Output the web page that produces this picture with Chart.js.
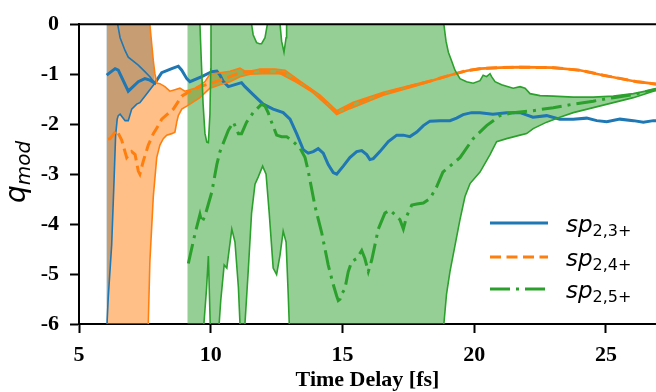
<!DOCTYPE html>
<html>
<head>
<meta charset="utf-8">
<script src="https://cdn.jsdelivr.net/npm/chart.js@4.4.1/dist/chart.umd.min.js"></script>
<style>
html, body { margin: 0; padding: 0; background: #fff; overflow: hidden; }
</style>
</head>
<body>
<canvas id="chart1" width="656" height="392"></canvas>
<script>
// tick labels
const xTicks = [5, 10, 15, 20, 25];
const yTicks = [-6, -5, -4, -3, -2, -1, 0];

// sp_{2,3+}  [time delay (fs), q_mod]
const blueMean = [[6.05,-1.02],[6.37,-0.89],[6.49,-0.92],[6.87,-1.34],[7.25,-1.15],[7.50,-1.09],[7.69,-1.12],[7.88,-1.18],
  [8.14,-0.97],[8.52,-0.89],[8.77,-0.84],[8.90,-0.92],[9.09,-1.09],[9.21,-1.15],[9.66,-1.05],[10.04,-0.95],[10.23,-0.94],
  [10.35,-1.02],[10.48,-1.15],[10.67,-1.25],[10.92,-1.21],[11.17,-1.17],[11.30,-1.25],[11.61,-1.41],[11.99,-1.60],[12.37,-1.70],
  [12.75,-1.77],[13.01,-1.90],[13.26,-2.19],[13.51,-2.51],[13.70,-2.58],[13.89,-2.55],[14.08,-2.49],[14.27,-2.58],[14.46,-2.81],
  [14.65,-2.97],[14.78,-3.00],[15.03,-2.84],[15.28,-2.67],[15.54,-2.55],[15.73,-2.53],[15.92,-2.61],[16.04,-2.71],[16.17,-2.69],
  [16.42,-2.55],[16.74,-2.35],[17.06,-2.22],[17.31,-2.22],[17.56,-2.25],[17.82,-2.16],[18.07,-2.03],[18.32,-1.94],[18.70,-1.93],
  [19.08,-1.93],[19.33,-1.88],[19.58,-1.81],[19.90,-1.77],[20.22,-1.77],[20.71,-1.80],[21.23,-1.77],[21.74,-1.77],[22.23,-1.86],
  [22.75,-1.83],[23.25,-1.90],[23.76,-1.90],[24.27,-1.88],[24.65,-1.93],[25.03,-1.95],[25.53,-1.90],[26.04,-1.93],[26.42,-1.96],
  [26.80,-1.93],[27.05,-1.93]];
const blueHigh = [[6.05,2.0],[6.46,0.02],[6.47,-0.01],[6.56,-0.27],[6.75,-0.53],[6.87,-0.66],[7.25,-0.82],[7.50,-0.95],[7.69,-1.05],[7.88,-1.18]];
const blueLow = [[6.04,-6.5],[6.07,-5.92],[6.11,-5.47],[6.24,-4.42],[6.33,-3.13],[6.39,-2.22],[6.45,-1.90],[6.49,-1.83],[6.56,-1.80],
  [6.75,-1.93],[6.87,-1.93],[7.00,-1.70],[7.19,-1.60],[7.31,-1.57],[7.50,-1.44],[7.69,-1.31],[7.88,-1.18]];
const blueTop = [[6.04,2.0],[7.60,2.0],[7.69,-0.01],[7.76,-0.40],[7.82,-0.73],[7.86,-0.95],[7.88,-1.18]];

// sp_{2,4+}
const orangeMean = [[6.10,-2.30],[6.18,-2.29],[6.43,-2.12],[6.62,-2.32],[6.81,-2.67],[7.00,-2.55],[7.13,-2.61],[7.25,-2.94],[7.31,-3.00],
  [7.44,-2.74],[7.63,-2.42],[7.82,-2.19],[8.01,-2.03],[8.14,-1.90],[8.58,-1.70],[8.90,-1.44],[9.21,-1.34],[9.59,-1.25],[10.09,-1.17],
  [10.62,-1.07],[11.11,-0.97],[11.68,-0.94],[12.25,-0.94],[12.82,-0.99],[13.39,-1.18],[13.77,-1.30],[14.15,-1.46],[14.53,-1.64],
  [14.78,-1.77],[15.03,-1.70],[15.41,-1.60],[15.92,-1.50],[16.55,-1.39],[17.18,-1.30],[17.82,-1.21],[18.45,-1.12],[19.08,-1.02],
  [19.72,-0.93],[20.22,-0.89],[20.98,-0.87],[21.74,-0.86],[22.99,-0.87],[24.01,-0.92],[24.89,-1.02],[26.17,-1.15],[26.78,-1.19],[27.05,-1.21]];
const orangeHigh = [[6.05,2.0],[7.68,0.02],[7.69,-0.01],[7.76,-0.40],[7.82,-0.73],[7.88,-0.99],[7.95,-1.18],[8.07,-1.19],[8.26,-1.25],
  [8.45,-1.34],[8.64,-1.31],[8.83,-1.28],[9.02,-1.34],[9.21,-1.31],[9.40,-1.28],[9.59,-1.22],[9.78,-1.15],[9.97,-1.00],[10.35,-0.97],
  [10.73,-0.94],[11.11,-0.88],[11.30,-0.94],[11.49,-0.94],[11.87,-0.90],[12.44,-0.90],[12.82,-0.92],[13.39,-1.14],[14.15,-1.42],
  [14.78,-1.73],[15.41,-1.56],[16.55,-1.36],[17.82,-1.19],[18.45,-1.11],[19.08,-1.01],[19.72,-0.92],[20.22,-0.88],[20.98,-0.86],
  [21.74,-0.85],[22.99,-0.86],[24.01,-0.91],[24.89,-1.01],[26.17,-1.14],[26.78,-1.18],[27.05,-1.20]];
const orangeLow = [[6.05,-8.0],[7.60,-6.3],[7.63,-5.99],[7.69,-4.75],[7.82,-3.45],[7.95,-2.67],[8.07,-2.42],[8.20,-2.29],[8.33,-2.22],
  [8.52,-2.19],[8.64,-2.16],[8.71,-1.96],[8.77,-1.83],[8.90,-1.70],[9.09,-1.64],[9.59,-1.47],[9.97,-1.28],[10.35,-1.21],[10.73,-1.15],
  [11.11,-1.05],[11.49,-1.00],[11.98,-0.99],[12.63,-0.99],[13.27,-1.17],[13.88,-1.37],[14.45,-1.64],[14.78,-1.81],[15.28,-1.69],
  [16.55,-1.42],[17.82,-1.23],[18.45,-1.13],[19.08,-1.03],[19.72,-0.94],[20.22,-0.90],[20.98,-0.88],[21.74,-0.87],[22.99,-0.88],
  [24.01,-0.93],[24.89,-1.03],[26.17,-1.16],[26.78,-1.20],[27.05,-1.22]];

// sp_{2,5+}
const greenMean = [[9.15,-4.79],[9.40,-4.20],[9.59,-3.81],[9.66,-3.97],[9.78,-3.84],[10.04,-3.36],[10.23,-2.81],[10.35,-2.55],[10.67,-2.12],
  [10.86,-1.96],[11.05,-2.19],[11.17,-2.19],[11.36,-1.96],[11.61,-1.77],[11.93,-1.60],[12.06,-1.64],[12.18,-1.77],[12.31,-1.96],
  [12.50,-2.22],[12.69,-2.25],[12.88,-2.25],[13.13,-2.35],[13.39,-2.48],[13.58,-2.67],[13.70,-2.94],[13.96,-3.65],[14.21,-4.17],
  [14.46,-4.82],[14.65,-5.21],[14.78,-5.44],[14.84,-5.53],[14.91,-5.50],[14.97,-5.40],[15.09,-5.30],[15.22,-4.95],[15.35,-4.75],
  [15.54,-4.69],[15.73,-4.53],[15.85,-4.69],[15.98,-4.95],[16.11,-4.72],[16.36,-4.10],[16.61,-3.78],[16.80,-3.72],[16.99,-3.81],
  [17.18,-3.91],[17.31,-4.10],[17.44,-3.84],[17.63,-3.62],[17.82,-3.60],[18.07,-3.58],[18.32,-3.49],[18.57,-3.26],[18.81,-2.96],
  [19.46,-2.67],[19.96,-2.29],[20.47,-2.03],[20.98,-1.83],[21.48,-1.77],[22.24,-1.73],[23.00,-1.67],[23.76,-1.60],[24.52,-1.54],
  [25.28,-1.47],[26.04,-1.41],[26.80,-1.31],[27.05,-1.29]];
const greenHigh = [[9.11,0.6],[9.55,0.3],[9.59,0.0],[9.64,-0.7],[9.71,-1.6],[9.78,-2.18],[9.85,-2.36],[9.91,-2.37],[9.97,-1.8],[10.00,-0.9],
  [10.01,0.0],[10.10,0.6],[11.00,0.8],[11.50,0.2],[11.55,0.0],[11.61,-0.21],[11.74,-0.37],[11.85,-0.39],[11.93,-0.39],[12.06,-0.27],
  [12.15,0.0],[12.25,0.3],[12.55,0.3],[12.63,0.0],[12.69,-0.34],[12.78,-0.56],[12.86,-0.27],[12.88,0.0],[13.00,0.4],[18.00,0.5],
  [18.80,0.1],[18.85,-0.01],[18.93,-0.34],[19.02,-0.56],[19.14,-0.73],[19.27,-0.92],[19.46,-1.09],[19.71,-1.15],[19.96,-1.18],
  [20.22,-1.13],[20.34,-1.02],[20.47,-1.05],[20.60,-0.99],[20.66,-1.05],[20.79,-1.15],[21.04,-1.21],[21.29,-1.25],[21.48,-1.28],
  [21.74,-1.25],[21.93,-1.28],[22.12,-1.39],[22.50,-1.43],[23.00,-1.44],[23.76,-1.46],[24.52,-1.46],[25.28,-1.44],[26.04,-1.39],
  [26.80,-1.31],[27.05,-1.29]];
const greenLow = [[9.11,-7.0],[9.70,-6.3],[9.74,-6.0],[9.84,-5.3],[9.91,-4.64],[9.95,-5.4],[9.98,-6.0],[10.02,-6.3],[10.29,-6.3],
  [10.32,-5.99],[10.38,-5.53],[10.51,-4.82],[10.61,-4.88],[10.80,-4.10],[10.92,-4.36],[11.05,-5.27],[11.11,-5.99],[11.14,-6.3],
  [11.27,-6.3],[11.30,-5.99],[11.43,-4.88],[11.55,-3.78],[11.68,-3.20],[11.80,-3.06],[11.97,-2.84],[12.10,-3.00],[12.22,-3.78],
  [12.37,-4.88],[12.50,-5.01],[12.63,-4.62],[12.75,-4.14],[12.86,-4.36],[12.94,-5.40],[12.98,-5.99],[13.02,-6.3],[18.80,-6.3],
  [18.85,-5.99],[18.95,-5.40],[19.08,-4.95],[19.27,-4.43],[19.46,-3.91],[19.65,-3.45],[19.84,-3.19],[20.22,-2.96],[20.60,-2.61],
  [20.85,-2.35],[21.23,-2.29],[21.74,-2.22],[21.99,-2.19],[22.24,-2.09],[22.75,-1.96],[23.25,-1.86],[23.76,-1.77],[24.52,-1.67],
  [25.28,-1.57],[26.04,-1.47],[26.80,-1.34],[27.05,-1.31]];

const blue = '#1f77b4', orange = '#ff7f0e', green = '#2ca02c';
const dashes = { solid: [], dashed: [11, 5.5], dashdot: [20, 6, 3, 6] };

const pts = arr => arr.map(p => ({ x: p[0], y: p[1] }));

function meanLine(arr, color, dash) {
    return { data: pts(arr), borderColor: color, borderWidth: 3, borderDash: dash,
             pointRadius: 0, fill: false, tension: 0, clip: 0 };
}
function edgeLine(arr, color, fillColor, width) {
    return { data: pts(arr), borderColor: color, borderWidth: width === undefined ? 1.6 : width, pointRadius: 0, tension: 0, clip: 0,
             fill: fillColor ? '+1' : false, backgroundColor: fillColor || 'transparent' };
}

// later datasets are drawn first, so the blue band sits at the bottom
const datasets = [
    meanLine(greenMean, green, dashes.dashdot),
    edgeLine(greenLow, green, 'rgba(44,160,44,0.5)'),
    edgeLine(greenHigh, green),
    meanLine(orangeMean, orange, dashes.dashed),
    edgeLine(orangeLow, orange, 'rgba(255,127,14,0.5)'),
    edgeLine(orangeHigh, orange),
    meanLine(blueMean, blue, dashes.solid),
    edgeLine(blueHigh, blue),
    edgeLine(blueLow, blue, 'rgba(31,119,180,0.5)'),
    edgeLine(blueTop, blue, null, 0)
];

const tickFont = { family: 'Liberation Serif', size: 22, weight: 'bold' };

const decorations = {
    id: 'decorations',
    afterDraw(chart) {
        const ctx = chart.ctx, ca = chart.chartArea;
        ctx.save();
        // top spine
        ctx.strokeStyle = '#000';
        ctx.lineWidth = 2;
        ctx.beginPath();
        ctx.moveTo(ca.left - 1, ca.top);
        ctx.lineTo(ca.right, ca.top);
        ctx.stroke();

        // x title
        ctx.fillStyle = '#000';
        ctx.font = 'bold 22px "Liberation Serif"';
        ctx.textAlign = 'center';
        ctx.textBaseline = 'alphabetic';
        ctx.fillText('Time Delay [fs]', 367.5, 386);

        ctx.textAlign = 'left';
        // y title q_mod
        ctx.save();
        ctx.translate(25, 203);
        ctx.rotate(-Math.PI / 2);
        ctx.font = 'italic 28px "DejaVu Sans"';
        ctx.fillText('q', 0, 0);
        const qw = ctx.measureText('q').width;
        ctx.font = 'italic 20px "DejaVu Sans"';
        ctx.fillText('mod', qw, 5);
        ctx.restore();

        // legend
        const items = [
            { color: blue, dash: dashes.solid, sub: '2,3+', y: 223 },
            { color: orange, dash: dashes.dashed, sub: '2,4+', y: 257 },
            { color: green, dash: dashes.dashdot, sub: '2,5+', y: 289 }
        ];
        items.forEach(it => {
            ctx.strokeStyle = it.color;
            ctx.lineWidth = 3;
            ctx.setLineDash(it.dash);
            ctx.beginPath();
            ctx.moveTo(490, it.y);
            ctx.lineTo(548, it.y);
            ctx.stroke();
            ctx.setLineDash([]);
            ctx.fillStyle = '#000';
            ctx.font = 'italic 23px "DejaVu Sans"';
            ctx.fillText('sp', 566, it.y + 9);
            const w = ctx.measureText('sp').width;
            ctx.font = '16px "DejaVu Sans"';
            ctx.fillText(it.sub, 566 + w, it.y + 13);
        });
        ctx.restore();
    }
};

const chart1 = new Chart(document.getElementById('chart1').getContext('2d'), {
    type: 'line',
    data: { datasets: datasets },
    options: {
        responsive: false,
        animation: false,
        layout: { padding: { top: 16, left: 0, right: 0, bottom: 0 } },
        plugins: {
            legend: { display: false },
            tooltip: { enabled: false },
            filler: { drawTime: 'beforeDatasetsDraw' }
        },
        scales: {
            x: {
                type: 'linear', min: 5, max: 26.9,
                afterBuildTicks: s => { s.ticks = xTicks.map(v => ({ value: v })); },
                afterFit: s => { s.height = 68; },
                ticks: { font: tickFont, color: '#000', padding: 9, maxRotation: 0, autoSkip: false, callback: v => String(v) },
                grid: { drawOnChartArea: false, tickLength: 9, tickWidth: 2, tickColor: '#000' },
                border: { color: '#000', width: 2 }
            },
            y: {
                type: 'linear', min: -6, max: 0,
                afterBuildTicks: s => { s.ticks = yTicks.map(v => ({ value: v })); },
                afterFit: s => { s.width = 79; },
                ticks: { font: tickFont, color: '#000', padding: 11, autoSkip: false, callback: v => String(v) },
                grid: { drawOnChartArea: false, tickLength: 9, tickWidth: 2, tickColor: '#000' },
                border: { color: '#000', width: 2 }
            }
        }
    },
    plugins: [decorations]
});
</script>
</body>
</html>
